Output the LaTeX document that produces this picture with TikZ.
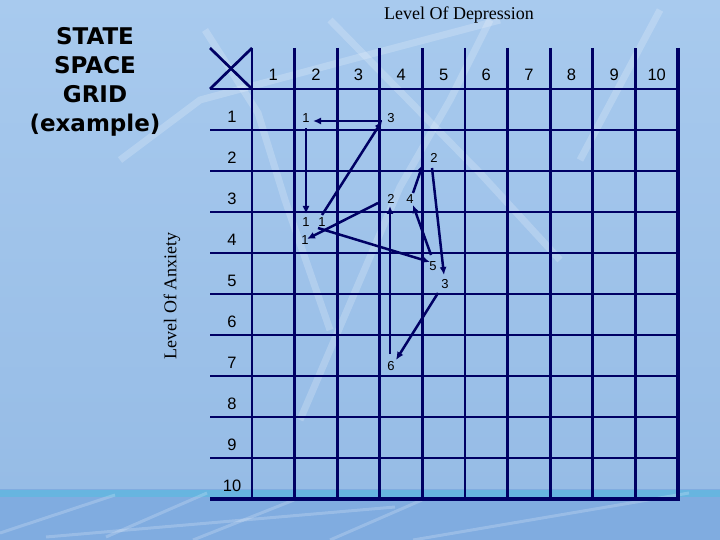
\documentclass[tikz,border=0pt]{standalone}
\usepackage{fontspec}
\setmainfont{Liberation Serif}
\newfontfamily\arialfont{Liberation Sans}
\newfontfamily\titlefont{DejaVu Sans}
\usetikzlibrary{arrows.meta}

\definecolor{gridblue}{RGB}{0,0,100}
\definecolor{skytop}{RGB}{168,202,238}
\definecolor{skybot}{RGB}{150,188,230}
\definecolor{floorblue}{RGB}{128,172,224}
\definecolor{floorcyan}{RGB}{80,190,225}

\begin{document}
\begin{tikzpicture}[x=1pt,y=-1pt,
    gridline/.style={gridblue, line width=2.7pt},
    traj/.style={gridblue, line width=2.5pt, -{Latex[length=8pt,width=7pt]}},
    streak/.style={white, opacity=0.2, line width=7pt},
    axnum/.style={font=\arialfont\fontsize{16.5}{18}\selectfont},
    ptnum/.style={font=\arialfont\fontsize{13}{14}\selectfont, inner sep=0pt}]
    \useasboundingbox (0,0) rectangle (720,540);

    % backdrop
    \shade[top color=skytop, bottom color=skybot] (0,0) rectangle (720,489);
    \fill[floorblue] (0,489) rectangle (720,540);
    \fill[floorcyan, opacity=0.5] (0,490) rectangle (720,497);
    \draw[streak] (120,160) -- (200,100) -- (360,57) -- (500,20);
    \draw[streak] (205,30) -- (258,113) -- (285,200) -- (330,330);
    \draw[streak] (330,20) -- (480,173) -- (560,260);
    \draw[streak] (490,20) -- (450,100) -- (400,187) -- (300,420);
    \draw[streak] (660,10) -- (580,160);
    \draw[streak, line width=3pt] (0,533) -- (115,495);
    \draw[streak, line width=3pt] (106,537) -- (207,493);
    \draw[streak, line width=3pt] (193,540) -- (294,500);
    \draw[streak, line width=3pt] (330,540) -- (422,500);
    \draw[streak, line width=3pt] (413,540) -- (689,493);
    \draw[streak, line width=3pt] (46,537) -- (395,507);

    % titles
    \node[font=\titlefont\bfseries\fontsize{23}{29}\selectfont, align=center] (title) at (95,82) {STATE\\SPACE\\GRID\\(example)};
    \node[font=\fontsize{18}{20}\selectfont] (depr) at (459,15) {Level Of Depression};
    \node[font=\fontsize{18}{20}\selectfont, rotate=90] (anx) at (172,296) {Level Of Anxiety};

    % grid
    \foreach \i in {0,...,9}
        \draw[gridline] (252+42.6*\i,48) -- (252+42.6*\i,499);
    \draw[gridline, line width=3.6pt] (678,48) -- (678,500.8); %right edge
    \foreach \j in {0,...,9}
        \draw[gridline] (210,89+41*\j) -- (678,89+41*\j);
    \draw[gridline, line width=3.6pt] (210,499) -- (679.8,499); %bottom edge
    \draw[gridline] (210,48) -- (252,89);
    \draw[gridline] (210,89) -- (252,48);

    \foreach \c in {1,...,10}
        \node[axnum] (col\c) at (252+42.6*\c-21.3,75) {\c};
    \foreach \r in {1,...,10}
        \node[axnum] (row\r) at (232,76+41*\r) {\r};

    % trajectory
    \node[ptnum] (t1) at (306,118) {1};
    \node[ptnum] (t3) at (391,118) {3};
    \node[ptnum] (t2a) at (434,158) {2};
    \node[ptnum] (t2b) at (391,199) {2};
    \node[ptnum] (t4) at (410,199) {4};
    \node[ptnum] (t1a) at (306,222) {1};
    \node[ptnum] (t1b) at (322,222) {1};
    \node[ptnum] (t1c) at (305,240) {1};
    \node[ptnum] (t5) at (433,266) {5};
    \node[ptnum] (t3b) at (445,284) {3};
    \node[ptnum] (t6) at (391,366) {6};

    \coordinate (p3) at (382,121);
    \coordinate (p1) at (313,121);
    \coordinate (q1) at (322,215);
    \coordinate (v1) at (306,128);
    \coordinate (v2) at (306,214);
    \coordinate (q2) at (378,203);
    \coordinate (q3) at (307,239);
    \coordinate (q4) at (318,228);
    \coordinate (q5) at (430,262);
    \coordinate (q6) at (431,255);
    \coordinate (q7) at (413,205);
    \coordinate (q8) at (432,168);
    \coordinate (q9) at (444,275);
    \coordinate (q10) at (413,193);
    \coordinate (q11) at (423,164);
    \coordinate (q12) at (390,354);
    \coordinate (q13) at (390,206);
    \coordinate (q14) at (438,293);
    \coordinate (q15) at (396,360);

    \draw[traj] (p3) -- (p1);
    \draw[traj] (q1) -- (p3);
    \draw[traj] (v1) -- (v2);
    \draw[traj] (q2) -- (q3);
    \draw[traj] (q4) -- (q5);
    \draw[traj] (q6) -- (q7);
    \draw[traj] (q8) -- (q9);
    \draw[traj] (q10) -- (q11);
    \draw[traj] (q12) -- (q13);
    \draw[traj] (q14) -- (q15);
\end{tikzpicture}
\end{document}
